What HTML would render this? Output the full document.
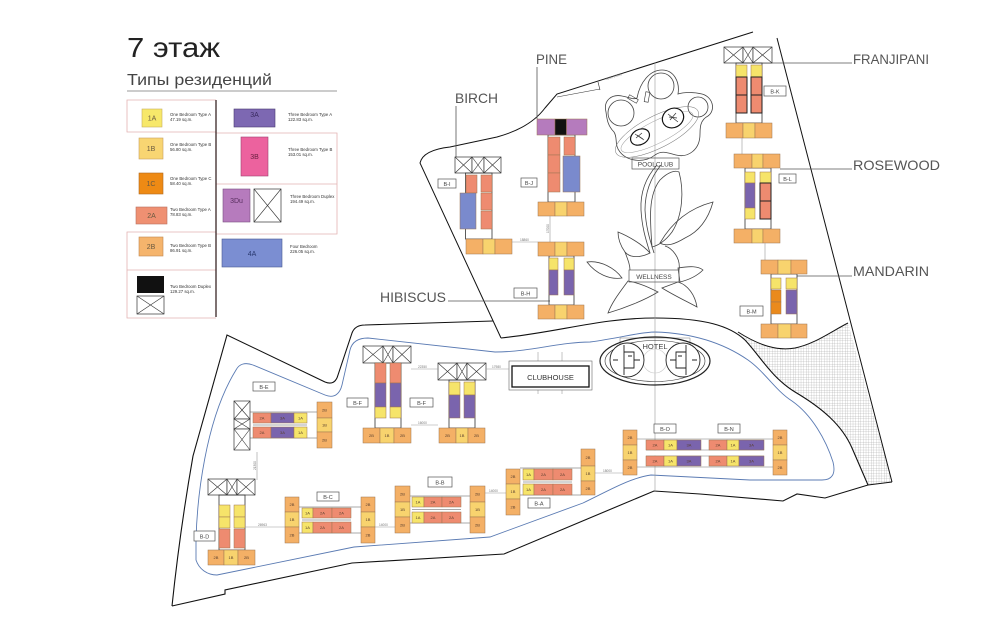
<!DOCTYPE html>
<html><head><meta charset="utf-8">
<style>
html,body{margin:0;padding:0;background:#fff;}
svg{display:block;}
text{font-family:"Liberation Sans",sans-serif;}
.c{stroke:#9b7550;stroke-width:0.5;}
.a1{fill:#f6e46a}.b1{fill:#f8d36e}.c1{fill:#ea8a1c}.a2{fill:#ee8b70}.b2{fill:#f4b066}
.a3{fill:#7a64ad}.a4{fill:#7a8acd}.du{fill:#b57bbd}.bk{fill:#111}
.th{stroke:#222;stroke-width:1;}
.bo{fill:none;stroke:#333;stroke-width:0.8;}
.x{fill:#fff;stroke:#333;stroke-width:0.7;}
.xl{fill:none;stroke:#333;stroke-width:0.6;}
.t{font-size:4px;fill:#5a4030;text-anchor:middle;}
.lt{font-size:7px;fill:#6a5a40;text-anchor:middle;}
.ds{font-size:4.3px;fill:#333;}
.lb{fill:#fff;stroke:#555;stroke-width:0.7;}
.lbt{font-size:5.5px;fill:#444;text-anchor:middle;}
.big{font-size:14px;fill:#555;}
.ld{stroke:#555;stroke-width:0.8;fill:none;}
.dm{stroke:#999;stroke-width:0.6;fill:none;}
.dt{font-size:3.2px;fill:#777;}
.fl{fill:none;stroke:#444;stroke-width:0.8;}
</style></head><body>
<svg width="1000" height="631" viewBox="0 0 1000 631" xmlns="http://www.w3.org/2000/svg">
<defs>
<pattern id="hatch" width="2.6" height="2.6" patternUnits="userSpaceOnUse">
<path d="M0,0 H2.6 M0,0 V2.6" stroke="#9a9a9a" stroke-width="0.45"/>
</pattern>
</defs>
<rect width="1000" height="631" fill="#fff"/>

<!-- ===== LEGEND ===== -->
<text x="127" y="57" font-size="28" fill="#222" textLength="93" lengthAdjust="spacingAndGlyphs">7 этаж</text>
<text x="127" y="85" font-size="16" fill="#444" textLength="145" lengthAdjust="spacingAndGlyphs">Типы резиденций</text>
<line x1="127" y1="91" x2="337" y2="91" stroke="#999" stroke-width="1"/>

<path d="M216,100 H127 V132 H216" fill="none" stroke="#e3b3b3" stroke-width="0.8"/>
<path d="M216,232 H127 V318 H216 M127,270 H216" fill="none" stroke="#e3b3b3" stroke-width="0.8"/>
<path d="M216,133 H337 V234 H216 M216,184 H337" fill="none" stroke="#e3b3b3" stroke-width="0.8"/>
<line x1="216" y1="100" x2="216" y2="317" stroke="#3a2626" stroke-width="1.3"/>

<rect x="142" y="109" width="20" height="18" fill="#f7e86a" stroke="#c8b060" stroke-width="0.6"/><text x="152" y="120.5" class="lt">1A</text>
<rect x="139" y="138" width="24" height="21" fill="#f8d572" stroke="#c8a060" stroke-width="0.6"/><text x="151" y="151" class="lt">1B</text>
<rect x="139" y="173" width="24" height="21" fill="#ee8a14" stroke="#b06a20" stroke-width="0.6"/><text x="151" y="186" class="lt">1C</text>
<rect x="136" y="207" width="31" height="17" fill="#ef9072" stroke="#b87060" stroke-width="0.6"/><text x="151.5" y="218" class="lt">2A</text>
<rect x="139" y="237" width="24" height="19" fill="#f5b46c" stroke="#c08850" stroke-width="0.6"/><text x="151" y="249" class="lt">2B</text>
<rect x="137" y="276" width="27" height="17" fill="#111"/>
<rect x="137" y="296" width="27" height="18" class="x"/><path d="M137,296 L164,314 M164,296 L137,314" class="xl"/>

<rect x="234" y="109" width="41" height="18" fill="#7d68b2" stroke="#4a3a70" stroke-width="0.6"/><text x="254.5" y="117" class="lt" style="fill:#3a2a60">3A</text>
<rect x="241" y="137" width="27" height="39" fill="#ec629e" stroke="#a04070" stroke-width="0.6"/><text x="254.5" y="159" class="lt" style="fill:#6a2040">3B</text>
<rect x="223" y="189" width="27" height="33" fill="#b67bbd" stroke="#7a5080" stroke-width="0.6"/><text x="236.5" y="203" class="lt" style="fill:#5a3060">3Du</text>
<rect x="254" y="189" width="27" height="33" class="x"/><path d="M254,189 L281,222 M281,189 L254,222" class="xl"/>
<rect x="222" y="239" width="60" height="28" fill="#7b8ed2" stroke="#4a5a90" stroke-width="0.6"/><text x="252" y="256" class="lt" style="fill:#2a3a70">4A</text>

<text x="170" y="116" class="ds">One Bedroom Type A</text><text x="170" y="121" class="ds">47.19 sq.m.</text>
<text x="170" y="146" class="ds">One Bedroom Type B</text><text x="170" y="151" class="ds">56.80 sq.m.</text>
<text x="170" y="180" class="ds">One Bedroom Type C</text><text x="170" y="185" class="ds">58.40 sq.m.</text>
<text x="170" y="211" class="ds">Two Bedroom Type A</text><text x="170" y="216" class="ds">78.83 sq.m.</text>
<text x="170" y="247" class="ds">Two Bedroom Type B</text><text x="170" y="252" class="ds">86.91 sq.m.</text>
<text x="170" y="288" class="ds">Two Bedroom Duplex</text><text x="170" y="293" class="ds">129.27 sq.m.</text>
<text x="288" y="116" class="ds">Three Bedroom Type A</text><text x="288" y="121" class="ds">122.83 sq.m.</text>
<text x="288" y="151" class="ds">Three Bedroom Type B</text><text x="288" y="156" class="ds">153.01 sq.m.</text>
<text x="290" y="198" class="ds">Three Bedroom Duplex</text><text x="290" y="203" class="ds">194.49 sq.m.</text>
<text x="290" y="248" class="ds">Four Bedroom</text><text x="290" y="253" class="ds">226.05 sq.m.</text>

<!-- ===== SITE OUTLINES ===== -->
<path d="M741,335 C760,346 778,351 795,348 C815,344 832,331 848,323 L892,482 L868,485 L852,448 C842,425 822,408 795,392 C772,378 760,356 745,340 Z" fill="url(#hatch)"/>
<path d="M738,332 C760,346 778,351 795,348 C815,344 832,331 848,323" fill="none" stroke="#111" stroke-width="1"/>
<path d="M501,338 L420,163 Q423,150 450,147 L497,137 Q530,128 545,108 L557,94 L753,32" fill="none" stroke="#111" stroke-width="1"/>
<path d="M557,97 L600,89 M598,82 L600,90" fill="none" stroke="#333" stroke-width="0.6"/>
<text x="606" y="80" class="dt" transform="rotate(-17 606 80)">4850 10000</text>
<line x1="777" y1="38" x2="892" y2="482" stroke="#111" stroke-width="1"/>
<path d="M892,482 L868,485 L825,498 L797,494 L783,501 L700,494 L654,491 L504,554 L352,563 L225,590 L225,594 L172,606" fill="none" stroke="#111" stroke-width="1.1"/>
<path d="M172,606 Q180,530 193,456 L227,335 L325,382 Q335,386 338,375 L352,333 Q355,325 365,325 L493,321" fill="none" stroke="#111" stroke-width="1.1"/>
<path d="M501,338 C560,332 600,318 655,318 C705,318 730,326 745,340 C760,356 772,378 795,392 C822,408 842,425 852,448 L868,485" fill="none" stroke="#111" stroke-width="1.1"/>

<path d="M236,370 C239,364 245,362 253,365 L325,395 C335,399 340,393 342,385 L350,350 C352,342 358,338 368,338 L495,352 C530,352 560,342 590,342 C620,338 640,332 655,332 C690,333 722,342 748,360 C765,372 775,390 792,401 C812,415 826,440 833,462 C836,474 832,480 822,480 L750,480 L651,475 C630,478 610,490 583,503 L490,537 L354,547 L217,575 C207,575 199,569 196,560 L196,540 C197,500 205,420 236,370 Z" fill="none" stroke="#5b7bb3" stroke-width="0.9"/>

<line x1="655" y1="62" x2="655" y2="492" stroke="#9a9a9a" stroke-width="0.6"/>

<!-- ===== FLOWER / POOLCLUB ===== -->
<path class="fl" d="M606,112 C603,100 612,94 622,96 C628,97 634,100 637,98 C640,82 650,70 662,70 C674,70 680,82 678,94 C684,92 694,92 702,94 C713,97 716,110 708,116 C700,120 700,128 700,134 C700,150 688,158 676,155 C668,153 662,150 655,155 C645,163 628,162 620,152 C614,145 618,138 614,132 C608,126 607,120 606,112 Z"/>
<circle cx="621" cy="113" r="13" class="fl" stroke-width="0.6"/>
<circle cx="661" cy="86" r="13" class="fl" stroke-width="0.6"/>
<circle cx="698" cy="107" r="10" class="fl" stroke-width="0.6"/>
<ellipse cx="657" cy="132" rx="46" ry="16" transform="rotate(-27 657 132)" fill="none" stroke="#777" stroke-width="0.5"/>
<ellipse cx="657" cy="132" rx="40" ry="11" transform="rotate(-27 657 132)" fill="none" stroke="#999" stroke-width="0.5"/>
<ellipse cx="640" cy="137" rx="10" ry="7.5" transform="rotate(-30 640 137)" fill="#fff" stroke="#111" stroke-width="1.2"/>
<path d="M635,134 L644,140 M636,138 L642,133 M637,135 L643,139" stroke="#333" stroke-width="0.7"/>
<ellipse cx="673" cy="118" rx="11" ry="9.5" transform="rotate(-30 673 118)" fill="#fff" stroke="#111" stroke-width="1.2"/>
<path d="M668,114 L678,122 M670,120 L676,113 M669,117 L677,118" stroke="#333" stroke-width="0.7"/>
<rect x="628" y="97" width="10" height="4" transform="rotate(30 633 99)" fill="none" stroke="#333" stroke-width="0.6"/>
<rect x="645" y="92" width="4" height="10" transform="rotate(10 647 97)" fill="none" stroke="#333" stroke-width="0.6"/>
<path class="fl" d="M657,165 C648,175 640,190 641,210 C642,228 646,240 650,253"/>
<path class="fl" d="M661,165 C652,176 645,190 645,210 C646,228 650,240 654,253"/>
<path class="fl" d="M652,247 C650,220 648,195 660,180 C668,172 675,170 679,172 C684,190 683,215 672,232 C666,240 660,245 652,247 Z"/>
<path class="fl" d="M660,243 C672,222 690,208 713,202 C708,220 698,232 685,238 C675,244 667,247 660,243 Z"/>
<path class="fl" d="M618,232 C628,236 642,244 650,253 C640,258 630,258 625,252 C620,245 618,238 618,232 Z"/>
<path class="fl" d="M587,262 C600,260 615,268 622,278 C610,280 596,274 587,262 Z"/>
<path class="fl" d="M628,281 C620,292 612,302 608,313 C625,308 645,300 658,292 C650,288 640,283 628,281 Z"/>
<path class="fl" d="M662,288 C675,296 688,302 697,307 C695,295 688,285 678,282 Z"/>
<path class="fl" d="M678,268 C690,266 698,266 703,270 C697,276 688,280 680,282 Z"/>
<path class="fl" d="M625,252 C628,260 630,265 630,270 M679,270 C681,258 672,248 665,246"/>
<rect x="632" y="158" width="47" height="11" fill="none" stroke="#555" stroke-width="0.7"/>
<text x="655.5" y="166.3" font-size="6.5" fill="#444" text-anchor="middle">POOLCLUB</text>
<rect x="629" y="270" width="50" height="12" fill="none" stroke="#555" stroke-width="0.7"/>
<text x="654" y="279" font-size="6.5" fill="#444" text-anchor="middle">WELLNESS</text>

<!-- ===== HOTEL ===== -->
<path d="M620,348 V338 H690 V348" fill="none" stroke="#777" stroke-width="0.5"/>
<ellipse cx="655" cy="361" rx="55" ry="24" fill="none" stroke="#222" stroke-width="1.2"/>
<ellipse cx="655" cy="361" rx="50" ry="20.5" fill="none" stroke="#333" stroke-width="0.6"/>
<circle cx="655" cy="361" r="12" fill="none" stroke="#ccc" stroke-width="0.6"/>
<circle cx="627" cy="360" r="17" fill="#fff" stroke="#222" stroke-width="0.9"/>
<circle cx="683" cy="360" r="17" fill="#fff" stroke="#222" stroke-width="0.9"/>
<path d="M624,345 V375 M624,352 H634 V368 H624 M628,356 H632 M613,360 H618 M634,360 H640" fill="none" stroke="#222" stroke-width="0.9"/>
<path d="M686,345 V375 M686,352 H676 V368 H686 M678,356 H682 M692,360 H697 M670,360 H676" fill="none" stroke="#222" stroke-width="0.9"/>
<text x="655" y="349" font-size="7.5" fill="#444" text-anchor="middle">HOTEL</text>

<!-- ===== CLUBHOUSE ===== -->
<path d="M538,352 V361 M562,352 V361 M538,390 V394 M562,390 V394" stroke="#888" stroke-width="0.5"/>
<rect x="509" y="361" width="83" height="29" fill="#fff" stroke="#666" stroke-width="0.6"/>
<rect x="512" y="366" width="77" height="21" fill="none" stroke="#111" stroke-width="1.3"/>
<text x="550.5" y="380" font-size="7.5" fill="#333" text-anchor="middle">CLUBHOUSE</text>

<!-- ===== BIG LABELS ===== -->
<text x="455" y="103" class="big" textLength="43" lengthAdjust="spacingAndGlyphs">BIRCH</text>
<line x1="456" y1="106" x2="456" y2="157" class="ld"/>
<text x="536" y="64" class="big" textLength="31" lengthAdjust="spacingAndGlyphs">PINE</text>
<line x1="537" y1="67" x2="537" y2="119" class="ld"/>
<text x="380" y="302" class="big" textLength="66" lengthAdjust="spacingAndGlyphs">HIBISCUS</text>
<line x1="448" y1="301" x2="550" y2="301" class="ld"/>
<text x="853" y="64" class="big" textLength="76" lengthAdjust="spacingAndGlyphs">FRANJIPANI</text>
<line x1="762" y1="63" x2="852" y2="63" class="ld"/>
<text x="853" y="170" class="big" textLength="87" lengthAdjust="spacingAndGlyphs">ROSEWOOD</text>
<line x1="780" y1="169" x2="852" y2="169" class="ld"/>
<text x="853" y="276" class="big" textLength="76" lengthAdjust="spacingAndGlyphs">MANDARIN</text>
<line x1="797" y1="276" x2="852" y2="276" class="ld"/>

<!-- ===== B-I BIRCH ===== -->
<rect x="455" y="157" width="17" height="16" class="x"/><path d="M455,157 L472,173 M472,157 L455,173" class="xl"/>
<rect x="472" y="157" width="12" height="16" class="x"/><path d="M472,157 L484,173 M484,157 L472,173" class="xl"/>
<rect x="484" y="157" width="17" height="16" class="x"/><path d="M484,157 L501,173 M501,157 L484,173" class="xl"/>
<rect class="bo" x="465.5" y="173" width="26.5" height="66"/>
<rect class="c a2" x="466" y="175" width="11" height="18"/>
<rect class="c a4" x="460" y="193" width="16" height="36"/>
<rect class="c a2" x="481" y="175" width="11" height="17"/>
<rect class="c a2" x="481" y="193" width="11" height="17"/>
<rect class="c a2" x="481" y="211" width="11" height="18"/>
<rect class="c b2" x="466" y="239" width="17" height="15"/>
<rect class="c b1" x="483" y="239" width="12" height="15"/>
<rect class="c b2" x="495" y="239" width="17" height="15"/>
<rect class="lb" x="438" y="179" width="18" height="9"/><text x="447" y="185.8" class="lbt">B-I</text>

<!-- ===== B-J PINE ===== -->
<rect class="bo" x="548" y="135" width="27" height="67"/>
<rect class="c du" x="537" y="119" width="18" height="16"/>
<rect class="c bk" x="555" y="119" width="11.5" height="16"/>
<rect class="c du" x="566.5" y="119" width="20.5" height="16"/>
<rect class="c a2" x="548" y="137" width="12" height="18"/>
<rect class="c a2" x="548" y="155" width="12" height="18"/>
<rect class="c a2" x="548" y="173" width="12" height="19"/>
<rect class="c a2" x="564" y="137" width="11" height="18"/>
<rect class="c a4" x="563" y="156" width="17" height="36"/>
<rect class="c b2" x="538" y="202" width="17" height="14"/>
<rect class="c b1" x="555" y="202" width="12" height="14"/>
<rect class="c b2" x="567" y="202" width="17" height="14"/>
<rect class="lb" x="521" y="178" width="16" height="9"/><text x="529" y="185" class="lbt">B-J</text>
<line x1="550" y1="216" x2="550" y2="242" class="dm"/>
<text x="549" y="233" class="dt" transform="rotate(-90 549 233)">17000</text>

<!-- ===== B-H HIBISCUS ===== -->
<rect class="bo" x="549" y="256" width="25" height="49"/>
<rect class="c b2" x="538" y="242" width="17" height="14"/>
<rect class="c b1" x="555" y="242" width="12" height="14"/>
<rect class="c b2" x="567" y="242" width="17" height="14"/>
<rect class="c a1" x="549" y="258" width="9" height="12"/>
<rect class="c a3" x="549" y="270" width="9" height="25"/>
<rect class="c a1" x="564" y="258" width="10" height="12"/>
<rect class="c a3" x="564" y="270" width="10" height="25"/>
<rect class="c b2" x="538" y="305" width="17" height="14"/>
<rect class="c b1" x="555" y="305" width="12" height="14"/>
<rect class="c b2" x="567" y="305" width="17" height="14"/>
<rect class="lb" x="514" y="288" width="23" height="10"/><text x="525.5" y="295.3" class="lbt">B-H</text>
<line x1="512" y1="242" x2="538" y2="242" class="dm"/>
<text x="520" y="241" class="dt">18860</text>

<!-- ===== B-K FRANJIPANI ===== -->
<rect x="724" y="47" width="19" height="16" class="x"/><path d="M724,47 L743,63 M743,47 L724,63" class="xl"/>
<rect x="743" y="47" width="10" height="16" class="x"/><path d="M743,47 L753,63 M753,47 L743,63" class="xl"/>
<rect x="753" y="47" width="19" height="16" class="x"/><path d="M753,47 L772,63 M772,47 L753,63" class="xl"/>
<rect class="bo" x="736" y="63" width="26" height="60"/>
<rect class="c a1" x="736" y="65" width="11" height="12"/>
<rect class="c a2 th" x="736" y="77" width="11" height="18"/>
<rect class="c a2 th" x="736" y="95" width="11" height="18"/>
<rect class="c a1" x="751" y="65" width="11" height="12"/>
<rect class="c a2 th" x="751" y="77" width="11" height="18"/>
<rect class="c a2 th" x="751" y="95" width="11" height="18"/>
<rect class="c b2" x="726" y="123" width="17" height="15"/>
<rect class="c b1" x="743" y="123" width="12" height="15"/>
<rect class="c b2" x="755" y="123" width="17" height="15"/>
<rect class="lb" x="764" y="86" width="22" height="10"/><text x="775" y="93.3" class="lbt">B-K</text>
<line x1="742" y1="138" x2="742" y2="154" class="dm"/>

<!-- ===== B-L ROSEWOOD ===== -->
<rect class="bo" x="745" y="168" width="26" height="61"/>
<rect class="c b2" x="734" y="154" width="18" height="14"/>
<rect class="c b1" x="752" y="154" width="11" height="14"/>
<rect class="c b2" x="763" y="154" width="17" height="14"/>
<rect class="c a1" x="745" y="172" width="10" height="11"/>
<rect class="c a3" x="745" y="183" width="10" height="25"/>
<rect class="c a1" x="745" y="208" width="10" height="11"/>
<rect class="c a1" x="760" y="172" width="11" height="11"/>
<rect class="c a2 th" x="760" y="183" width="11" height="18"/>
<rect class="c a2 th" x="760" y="201" width="11" height="18"/>
<rect class="c b2" x="734" y="229" width="18" height="14"/>
<rect class="c b1" x="752" y="229" width="11" height="14"/>
<rect class="c b2" x="763" y="229" width="17" height="14"/>
<rect class="lb" x="779" y="174" width="17" height="9"/><text x="787.5" y="181" class="lbt">B-L</text>
<line x1="765" y1="243" x2="765" y2="260" class="dm"/>

<!-- ===== B-M MANDARIN ===== -->
<rect class="bo" x="771" y="274" width="26" height="50"/>
<rect class="c b2" x="761" y="260" width="17" height="14"/>
<rect class="c b1" x="778" y="260" width="13" height="14"/>
<rect class="c b2" x="791" y="260" width="16" height="14"/>
<rect class="c a1" x="771" y="278" width="10" height="11"/>
<rect class="c c1" x="771" y="290" width="10" height="12"/>
<rect class="c c1" x="771" y="302" width="10" height="12"/>
<rect class="c a1" x="786" y="278" width="11" height="11"/>
<rect class="c a3" x="786" y="290" width="11" height="24"/>
<rect class="c b2" x="761" y="324" width="17" height="14"/>
<rect class="c b1" x="778" y="324" width="13" height="14"/>
<rect class="c b2" x="791" y="324" width="16" height="14"/>
<rect class="lb" x="740" y="306" width="23" height="10"/><text x="751.5" y="313.3" class="lbt">B-M</text>

<!-- ===== B-E ===== -->
<rect x="234" y="401" width="16" height="18" class="x"/><path d="M234,401 L250,419 M250,401 L234,419" class="xl"/>
<rect x="234" y="419" width="16" height="10" class="x"/><path d="M234,419 L250,429 M250,419 L234,429" class="xl"/>
<rect x="234" y="429" width="16" height="21" class="x"/><path d="M234,429 L250,450 M250,429 L234,450" class="xl"/>
<path d="M250,412 H317 M250,438 H317 M253,425 H307" fill="none" stroke="#555" stroke-width="0.6"/>
<rect class="c a2" x="253" y="413" width="18" height="10"/><text x="262" y="419.5" class="t">2A</text>
<rect class="c a3" x="271" y="413" width="23" height="10"/><text x="282.5" y="419.5" class="t">3A</text>
<rect class="c a1" x="294" y="413" width="13" height="10"/><text x="300.5" y="419.5" class="t">1A</text>
<rect class="c a2" x="253" y="427" width="18" height="11"/><text x="262" y="434" class="t">2A</text>
<rect class="c a3" x="271" y="427" width="23" height="11"/><text x="282.5" y="434" class="t">3A</text>
<rect class="c a1" x="294" y="427" width="13" height="11"/><text x="300.5" y="434" class="t">1A</text>
<rect class="c b2" x="317" y="402" width="15" height="16"/><text x="324.5" y="411.5" class="t">2B</text>
<rect class="c b1" x="317" y="418" width="15" height="14"/><text x="324.5" y="426.5" class="t">1B</text>
<rect class="c b2" x="317" y="432" width="15" height="16"/><text x="324.5" y="441.5" class="t">2B</text>
<rect class="lb" x="253" y="382" width="22" height="9"/><text x="264" y="389" class="lbt">B-E</text>
<line x1="257" y1="452" x2="257" y2="480" class="dm"/>
<text x="256" y="470" class="dt" transform="rotate(-90 256 470)">21300</text>

<!-- ===== B-F left ===== -->
<rect x="363" y="346" width="20" height="17" class="x"/><path d="M363,346 L383,363 M383,346 L363,363" class="xl"/>
<rect x="383" y="346" width="10" height="17" class="x"/><path d="M383,346 L393,363 M393,346 L383,363" class="xl"/>
<rect x="393" y="346" width="18" height="17" class="x"/><path d="M393,346 L411,363 M411,346 L393,363" class="xl"/>
<rect class="bo" x="375" y="363" width="26" height="65"/>
<rect class="c a2" x="375" y="363" width="11" height="20"/>
<rect class="c a3" x="375" y="383" width="11" height="24"/>
<rect class="c a1" x="375" y="407" width="11" height="11"/>
<rect class="c a2" x="390" y="363" width="11" height="20"/>
<rect class="c a3" x="390" y="383" width="11" height="24"/>
<rect class="c a1" x="390" y="407" width="11" height="11"/>
<rect class="c b2" x="363" y="428" width="17" height="15"/><text x="371.5" y="437" class="t">2B</text>
<rect class="c b1" x="380" y="428" width="14" height="15"/><text x="387" y="437" class="t">1B</text>
<rect class="c b2" x="394" y="428" width="17" height="15"/><text x="402.5" y="437" class="t">2B</text>
<rect class="lb" x="347" y="398" width="21" height="9"/><text x="357.5" y="405" class="lbt">B-F</text>

<!-- ===== B-F right ===== -->
<rect x="438" y="363" width="19" height="17" class="x"/><path d="M438,363 L457,380 M457,363 L438,380" class="xl"/>
<rect x="457" y="363" width="10" height="17" class="x"/><path d="M457,363 L467,380 M467,363 L457,380" class="xl"/>
<rect x="467" y="363" width="19" height="17" class="x"/><path d="M467,363 L486,380 M486,363 L467,380" class="xl"/>
<rect class="bo" x="449" y="380" width="26" height="48"/>
<rect class="c a1" x="449" y="382" width="11" height="13"/>
<rect class="c a3" x="449" y="395" width="11" height="23"/>
<rect class="c a1" x="464" y="382" width="11" height="13"/>
<rect class="c a3" x="464" y="395" width="11" height="23"/>
<rect class="c b2" x="439" y="428" width="17" height="15"/><text x="447.5" y="437" class="t">2B</text>
<rect class="c b1" x="456" y="428" width="12" height="15"/><text x="462" y="437" class="t">1B</text>
<rect class="c b2" x="468" y="428" width="17" height="15"/><text x="476.5" y="437" class="t">2B</text>
<rect class="lb" x="410" y="398" width="23" height="9"/><text x="421.5" y="405" class="lbt">B-F</text>
<line x1="411" y1="369" x2="438" y2="369" class="dm"/><text x="418" y="368" class="dt">22350</text>
<line x1="411" y1="425" x2="438" y2="425" class="dm"/><text x="418" y="424" class="dt">16000</text>
<line x1="486" y1="369" x2="509" y2="369" class="dm"/><text x="492" y="368" class="dt">17980</text>

<!-- ===== B-D ===== -->
<rect x="208" y="479" width="19" height="16" class="x"/><path d="M208,479 L227,495 M227,479 L208,495" class="xl"/>
<rect x="227" y="479" width="10" height="16" class="x"/><path d="M227,479 L237,495 M237,479 L227,495" class="xl"/>
<rect x="237" y="479" width="18" height="16" class="x"/><path d="M237,479 L255,495 M255,479 L237,495" class="xl"/>
<rect class="bo" x="219" y="495" width="26" height="55"/>
<rect class="c a1" x="219" y="505" width="11" height="12"/>
<rect class="c a1" x="219" y="517" width="11" height="11"/>
<rect class="c a2" x="219" y="529" width="11" height="19"/>
<rect class="c a1" x="234" y="505" width="11" height="12"/>
<rect class="c a1" x="234" y="517" width="11" height="11"/>
<rect class="c a2" x="234" y="529" width="11" height="19"/>
<rect class="c b2" x="208" y="550" width="16" height="15"/><text x="216" y="559" class="t">2B</text>
<rect class="c b1" x="224" y="550" width="14" height="15"/><text x="231" y="559" class="t">1B</text>
<rect class="c b2" x="238" y="550" width="17" height="15"/><text x="246.5" y="559" class="t">2B</text>
<rect class="lb" x="194" y="531" width="21" height="10"/><text x="204.5" y="538.3" class="lbt">B-D</text>
<line x1="245" y1="527" x2="285" y2="527" class="dm"/><text x="258" y="526" class="dt">26963</text>

<!-- ===== B-C ===== -->
<path d="M299,507 H361 M299,533 H361 M302,520 H351" fill="none" stroke="#555" stroke-width="0.6"/>
<rect class="c b2" x="285" y="497" width="14" height="15"/><text x="292" y="506" class="t">2B</text>
<rect class="c b1" x="285" y="512" width="14" height="15"/><text x="292" y="521" class="t">1B</text>
<rect class="c b2" x="285" y="527" width="14" height="16"/><text x="292" y="536.5" class="t">2B</text>
<rect class="c a1" x="302" y="508" width="11" height="10"/><text x="307.5" y="514.5" class="t">1A</text>
<rect class="c a2" x="313" y="508" width="19" height="10"/><text x="322.5" y="514.5" class="t">2A</text>
<rect class="c a2" x="332" y="508" width="19" height="10"/><text x="341.5" y="514.5" class="t">2A</text>
<rect class="c a1" x="302" y="522" width="11" height="11"/><text x="307.5" y="529" class="t">1A</text>
<rect class="c a2" x="313" y="522" width="19" height="11"/><text x="322.5" y="529" class="t">2A</text>
<rect class="c a2" x="332" y="522" width="19" height="11"/><text x="341.5" y="529" class="t">2A</text>
<rect class="c b2" x="361" y="497" width="14" height="15"/><text x="368" y="506" class="t">2B</text>
<rect class="c b1" x="361" y="512" width="14" height="15"/><text x="368" y="521" class="t">1B</text>
<rect class="c b2" x="361" y="527" width="14" height="16"/><text x="368" y="536.5" class="t">2B</text>
<rect class="lb" x="317" y="492" width="22" height="9"/><text x="328" y="499" class="lbt">B-C</text>
<line x1="375" y1="527" x2="395" y2="527" class="dm"/><text x="379" y="526" class="dt">14000</text>

<!-- ===== B-B ===== -->
<path d="M410,496 H470 M410,523 H470 M412,509.5 H461" fill="none" stroke="#555" stroke-width="0.6"/>
<rect class="c b2" x="395" y="486" width="15" height="16"/><text x="402.5" y="495.5" class="t">2B</text>
<rect class="c b1" x="395" y="502" width="15" height="15"/><text x="402.5" y="511" class="t">1B</text>
<rect class="c b2" x="395" y="517" width="15" height="16"/><text x="402.5" y="526.5" class="t">2B</text>
<rect class="c a1" x="412" y="497" width="12" height="10"/><text x="418" y="503.5" class="t">1A</text>
<rect class="c a2" x="424" y="497" width="18" height="10"/><text x="433" y="503.5" class="t">2A</text>
<rect class="c a2" x="442" y="497" width="19" height="10"/><text x="451.5" y="503.5" class="t">2A</text>
<rect class="c a1" x="412" y="512" width="12" height="11"/><text x="418" y="519" class="t">1A</text>
<rect class="c a2" x="424" y="512" width="18" height="11"/><text x="433" y="519" class="t">2A</text>
<rect class="c a2" x="442" y="512" width="19" height="11"/><text x="451.5" y="519" class="t">2A</text>
<rect class="c b2" x="470" y="486" width="15" height="16"/><text x="477.5" y="495.5" class="t">2B</text>
<rect class="c b1" x="470" y="502" width="15" height="15"/><text x="477.5" y="511" class="t">1B</text>
<rect class="c b2" x="470" y="517" width="15" height="16"/><text x="477.5" y="526.5" class="t">2B</text>
<rect class="lb" x="428" y="477" width="24" height="10"/><text x="440" y="484.3" class="lbt">B-B</text>
<line x1="485" y1="493" x2="506" y2="493" class="dm"/><text x="489" y="492" class="dt">14000</text>

<!-- ===== B-A ===== -->
<path d="M520,468 H581 M520,495 H581 M523,482 H572" fill="none" stroke="#555" stroke-width="0.6"/>
<rect class="c b2" x="506" y="469" width="14" height="15"/><text x="513" y="478" class="t">2B</text>
<rect class="c b1" x="506" y="484" width="14" height="15"/><text x="513" y="493" class="t">1B</text>
<rect class="c b2" x="506" y="499" width="14" height="16"/><text x="513" y="508.5" class="t">2B</text>
<rect class="c a1" x="523" y="469" width="11" height="11"/><text x="528.5" y="476" class="t">1A</text>
<rect class="c a2" x="534" y="469" width="19" height="11"/><text x="543.5" y="476" class="t">2A</text>
<rect class="c a2" x="553" y="469" width="19" height="11"/><text x="562.5" y="476" class="t">2A</text>
<rect class="c a1" x="523" y="484" width="11" height="11"/><text x="528.5" y="491" class="t">1A</text>
<rect class="c a2" x="534" y="484" width="19" height="11"/><text x="543.5" y="491" class="t">2A</text>
<rect class="c a2" x="553" y="484" width="19" height="11"/><text x="562.5" y="491" class="t">2A</text>
<rect class="c b2" x="581" y="449" width="14" height="17"/><text x="588" y="459" class="t">2B</text>
<rect class="c b1" x="581" y="466" width="14" height="15"/><text x="588" y="475" class="t">1B</text>
<rect class="c b2" x="581" y="481" width="14" height="14"/><text x="588" y="490" class="t">2B</text>
<rect class="lb" x="528" y="498" width="22" height="10"/><text x="539" y="505.3" class="lbt">B-A</text>
<line x1="595" y1="473" x2="623" y2="473" class="dm"/><text x="603" y="472" class="dt">18000</text>

<!-- ===== B-O / B-N ===== -->
<path d="M637,439 H773 M637,467 H773 M646,450 H764 M646,456 H764" fill="none" stroke="#777" stroke-width="0.5"/>
<rect x="646" y="450.5" width="118" height="5" fill="#fff"/>
<rect class="c b2" x="623" y="430" width="14" height="15"/><text x="630" y="439" class="t">2B</text>
<rect class="c b1" x="623" y="445" width="14" height="15"/><text x="630" y="454" class="t">1B</text>
<rect class="c b2" x="623" y="460" width="14" height="15"/><text x="630" y="469" class="t">2B</text>
<rect class="c a2" x="646" y="440" width="18" height="10"/><text x="655" y="446.5" class="t">2A</text>
<rect class="c a1" x="664" y="440" width="13" height="10"/><text x="670.5" y="446.5" class="t">1A</text>
<rect class="c a3" x="677" y="440" width="24" height="10"/><text x="689" y="446.5" class="t">3A</text>
<rect class="c a2" x="646" y="456" width="18" height="10"/><text x="655" y="462.5" class="t">2A</text>
<rect class="c a1" x="664" y="456" width="13" height="10"/><text x="670.5" y="462.5" class="t">1A</text>
<rect class="c a3" x="677" y="456" width="24" height="10"/><text x="689" y="462.5" class="t">3A</text>
<rect class="c a2" x="709" y="440" width="18" height="10"/><text x="718" y="446.5" class="t">2A</text>
<rect class="c a1" x="727" y="440" width="12" height="10"/><text x="733" y="446.5" class="t">1A</text>
<rect class="c a3" x="739" y="440" width="25" height="10"/><text x="751.5" y="446.5" class="t">3A</text>
<rect class="c a2" x="709" y="456" width="18" height="10"/><text x="718" y="462.5" class="t">2A</text>
<rect class="c a1" x="727" y="456" width="12" height="10"/><text x="733" y="462.5" class="t">1A</text>
<rect class="c a3" x="739" y="456" width="25" height="10"/><text x="751.5" y="462.5" class="t">3A</text>
<rect class="c b2" x="773" y="430" width="14" height="15"/><text x="780" y="439" class="t">2B</text>
<rect class="c b1" x="773" y="445" width="14" height="15"/><text x="780" y="454" class="t">1B</text>
<rect class="c b2" x="773" y="460" width="14" height="15"/><text x="780" y="469" class="t">2B</text>
<rect class="lb" x="654" y="424" width="22" height="9"/><text x="665" y="431" class="lbt">B-O</text>
<rect class="lb" x="718" y="424" width="22" height="9"/><text x="729" y="431" class="lbt">B-N</text>
</svg>
</body></html>
